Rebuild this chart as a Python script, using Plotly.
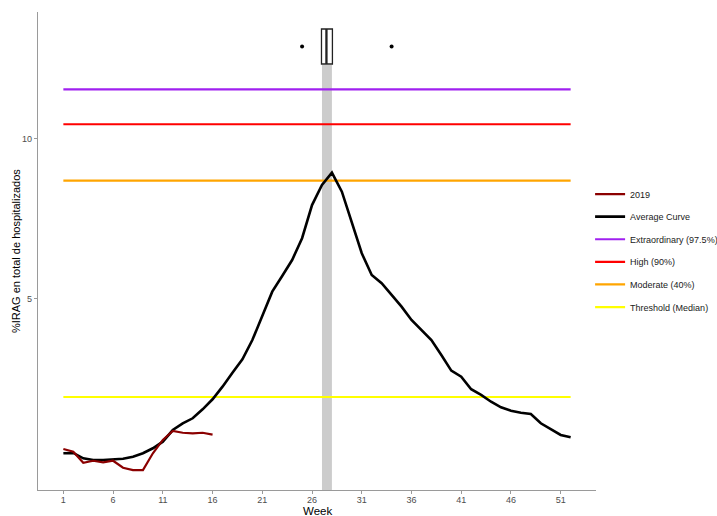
import plotly.graph_objects as go

# ---- data ----
weeks = list(range(1, 53))
average_curve = [2.563, 2.566, 2.507, 2.489, 2.489, 2.497, 2.503, 2.525, 2.563, 2.619,
                 2.695, 2.834, 2.918, 2.982, 3.100, 3.238, 3.420, 3.634, 3.850, 4.185,
                 4.631, 5.161, 5.523, 5.919, 6.505, 7.511, 8.194, 8.643, 7.958, 6.940,
                 6.095, 5.548, 5.352, 5.088, 4.836, 4.565, 4.371, 4.185, 3.923, 3.666,
                 3.572, 3.382, 3.299, 3.204, 3.127, 3.082, 3.055, 3.038, 2.918, 2.843,
                 2.774, 2.747]
weeks_2019 = list(range(1, 17))
values_2019 = [2.610, 2.580, 2.460, 2.481, 2.464, 2.481, 2.407, 2.383, 2.383, 2.563,
               2.715, 2.822, 2.801, 2.794, 2.801, 2.778]

threshold_names = ["Extraordinary (97.5%)", "High (90%)", "Moderate (40%)", "Threshold (Median)"]
threshold_values = [12.40, 10.66, 8.35, 3.27]
threshold_colors = ["#A020F0", "#FF0000", "#FFA500", "#FFFF00"]

# peak-week distribution (box) and peak-week band
peak_q1, peak_median, peak_q3 = 26.95, 27.45, 28.05
peak_outliers = [25, 34]
peak_band = [27, 28]

x_ticks = [1, 6, 11, 16, 21, 26, 31, 36, 41, 46, 51]
y_ticks = [5, 10]
x_title = "Week"
y_title = "%IRAG en total de hospitalizados"

FONT = "Liberation Sans, Arial, sans-serif"
fig = go.Figure()

# threshold lines
for i, (name, val, col) in enumerate(zip(threshold_names, threshold_values, threshold_colors)):
    fig.add_trace(go.Scatter(x=[weeks[0], weeks[-1]], y=[val, val], mode="lines",
                             line=dict(color=col, width=2.2), name=name,
                             legendgroup=name, legendrank=3 + i))

fig.add_trace(go.Scatter(x=weeks, y=average_curve, mode="lines",
                         line=dict(color="black", width=2.6), name="Average Curve",
                         legendgroup="avg", legendrank=2))
fig.add_trace(go.Scatter(x=weeks_2019, y=values_2019, mode="lines",
                         line=dict(color="#8B0000", width=2.2), name="2019",
                         legendgroup="2019", legendrank=1))

# box of peak weeks on an overlaid linear axis
BOX_Y = 0.9278
BOX_W = 0.0732
fig.add_trace(go.Box(y=[BOX_Y], q1=[peak_q1], median=[peak_median], q3=[peak_q3],
                     lowerfence=[peak_q1], upperfence=[peak_q3], orientation="h",
                     width=BOX_W, fillcolor="white", line=dict(color="#222222", width=1.3),
                     boxpoints=False, showlegend=False, xaxis="x", yaxis="y2"))
# thicker median stroke, as in the original
fig.add_trace(go.Scatter(x=[peak_median, peak_median], y=[BOX_Y - BOX_W / 2, BOX_Y + BOX_W / 2],
                         mode="lines", line=dict(color="#222222", width=2.2),
                         showlegend=False, xaxis="x", yaxis="y2", hoverinfo="skip"))
fig.add_trace(go.Scatter(x=peak_outliers, y=[BOX_Y] * len(peak_outliers), mode="markers",
                         marker=dict(color="black", size=4), showlegend=False,
                         xaxis="x", yaxis="y2"))

fig.add_shape(type="rect", xref="x", yref="y2", x0=peak_band[0], x1=peak_band[1],
              y0=0, y1=BOX_Y - BOX_W / 2 - 0.002, fillcolor="#CCCCCC", line=dict(width=0),
              layer="below")

# axis titles as annotations for exact placement
fig.add_annotation(text=y_title, xref="paper", yref="paper", x=-0.0394, y=0.5,
                   xanchor="center", yanchor="middle", textangle=-90, showarrow=False,
                   font=dict(size=11, color="black"))
fig.add_annotation(text=x_title, xref="paper", yref="paper", x=0.5, y=-0.0439,
                   xanchor="center", yanchor="middle", showarrow=False, borderpad=0,
                   font=dict(size=11.5, color="black"))

fig.update_layout(
    width=717, height=516,
    margin=dict(l=38, r=121, t=12, b=26, autoexpand=False),
    paper_bgcolor="white", plot_bgcolor="white",
    font=dict(family=FONT, color="black"),
    showlegend=True,
    legend=dict(xref="container", yref="container", x=0.823, y=0.652,
                xanchor="left", yanchor="top",
                font=dict(size=9, color="#1a1a1a"), tracegroupgap=3.6,
                bgcolor="rgba(0,0,0,0)"),
    xaxis=dict(range=[-1.55, 54.55], tickvals=x_ticks, showgrid=False, zeroline=False,
               automargin=False, ticklabelstandoff=-2,
               showline=True, linecolor="#9a9a9a", linewidth=1.3,
               ticks="outside", ticklen=3, tickcolor="#9a9a9a",
               tickfont=dict(size=9, color="#4D4D4D")),
    yaxis=dict(type="log", range=[0.3396, 1.2389], tickvals=y_ticks, ticktext=["5", "10"],
               automargin=False,
               showgrid=False, zeroline=False, showline=True, linecolor="#9a9a9a",
               linewidth=1.3, ticks="outside", ticklen=3, tickcolor="#9a9a9a",
               tickfont=dict(size=9, color="#4D4D4D")),
    yaxis2=dict(overlaying="y", range=[0, 1], visible=False, showgrid=False, zeroline=False),
)

fig.write_html("out.html")
